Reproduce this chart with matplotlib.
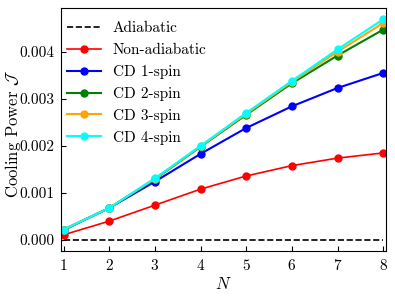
import matplotlib
matplotlib.use("Agg")
from matplotlib import pyplot as plt

plt.rcParams['font.family'] = 'serif'
plt.rcParams['font.serif'] = ['cmr10']
plt.rcParams['mathtext.fontset'] = 'cm'
plt.rcParams['axes.formatter.use_mathtext'] = True
plt.rcParams['axes.unicode_minus'] = False

N = [1, 2, 3, 4, 5, 6, 7, 8]
adiabatic = [0, 0, 0, 0, 0, 0, 0, 0]
non_adiabatic = [0.00011, 0.00040, 0.00074, 0.00108, 0.00136, 0.00158, 0.00174, 0.00185]
cd1 = [0.00021, 0.00068, 0.00124, 0.00183, 0.00238, 0.00284, 0.00323, 0.00355]
cd2 = [0.00022, 0.00068, 0.00129, 0.00198, 0.00266, 0.00333, 0.00392, 0.00447]
cd3 = [0.00022, 0.00068, 0.00130, 0.00199, 0.00268, 0.00336, 0.00400, 0.00461]
cd4 = [0.00022, 0.00068, 0.00131, 0.00200, 0.00270, 0.00338, 0.00405, 0.00469]

fig = plt.figure(figsize=(3.95, 2.96), dpi=100)
ax = fig.add_subplot(111)
ax.plot(N, adiabatic, 'k--', lw=1.2, label="Adiabatic")
ax.plot(N, non_adiabatic, c='red', marker='o', ms=5, lw=1.2, label="Non-adiabatic")
ax.plot(N, cd1, c='blue', marker='o', ms=5, lw=1.5, label="CD 1-spin")
ax.plot(N, cd2, c='green', marker='o', ms=5, lw=1.5, label="CD 2-spin")
ax.plot(N, cd3, c='orange', marker='o', ms=5, lw=1.5, label="CD 3-spin")
ax.plot(N, cd4, c='cyan', marker='o', ms=5, lw=1.5, label="CD 4-spin")

ax.set_xlim(0.95, 8.06)
ax.set_ylim(-0.000234, 0.00493)
ax.set_xticks(N)
ax.set_yticks([0, 0.001, 0.002, 0.003, 0.004])
ax.set_yticklabels(["0.000", "0.001", "0.002", "0.003", "0.004"])
ax.set_xlabel(r"$N$", fontsize=12, labelpad=2)
ax.set_ylabel(r"Cooling Power $\mathcal{J}$", fontsize=12)
ax.yaxis.set_label_coords(-0.118, 0.481)
ax.tick_params(axis="both", which="major", direction='in', labelsize=11, pad=5)
ax.legend(loc='upper left', bbox_to_anchor=(-0.015, 0.988), frameon=False, fontsize=11,
          handlelength=2.2, handletextpad=0.8, labelspacing=0.52, borderaxespad=0.3)

fig.subplots_adjust(left=0.155, right=0.977, top=0.973, bottom=0.152)
fig.savefig("out.png", dpi=100)
